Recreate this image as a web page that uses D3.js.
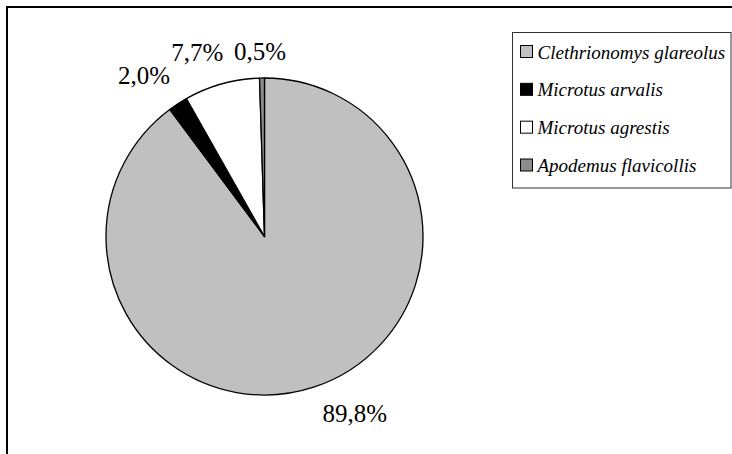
<!DOCTYPE html>
<html>
<head>
<meta charset="utf-8">
<script src="https://cdn.jsdelivr.net/npm/d3@7"></script>
<style>
  html, body { margin: 0; padding: 0; background: #fff; }
  svg { display: block; }
  svg text { font-family: "Liberation Serif", "Times New Roman", Times, Tinos, "Nimbus Roman", "DejaVu Serif", serif; }
</style>
</head>
<body>
<svg id="chart" width="732" height="454"></svg>
<script>
// Species share of captured rodents (%)
const species = ["Clethrionomys glareolus", "Microtus arvalis", "Microtus agrestis", "Apodemus flavicollis"];
const shares = [89.8, 2.0, 7.7, 0.5];
const valueLabels = ["89,8%", "2,0%", "7,7%", "0,5%"];
const fills = ["#c0c0c0", "#000000", "#ffffff", "#8c8c8c"];

// label placement: angular nudge (degrees) and distance from centre
const labelNudgeDeg = [-8.6, -3.7, -4.4, -0.5];
const labelDist = [199, 201, 196, 185];

const svg = d3.select("#chart");

// outer frame (runs off the right and bottom edges)
svg.append("rect")
  .attr("x", 7).attr("y", 7)
  .attr("width", 800).attr("height", 600)
  .attr("fill", "#fff")
  .attr("stroke", "#000")
  .attr("stroke-width", 2);

const cx = 264.5, cy = 236.5, r = 158.5;

const pie = d3.pie().sort(null).value(d => d)
  .startAngle(0).endAngle(2 * Math.PI);
const arcs = pie(shares);
const arc = d3.arc().innerRadius(0).outerRadius(r);

const g = svg.append("g").attr("transform", `translate(${cx},${cy})`);

g.selectAll("path.slice")
  .data(arcs)
  .join("path")
  .attr("class", "slice")
  .attr("d", arc)
  .attr("fill", (d, i) => fills[i])
  .attr("stroke", "#000")
  .attr("stroke-width", 1.3)
  .attr("stroke-linejoin", "round");

// value labels outside the pie
const labelAngle = (d, i) => (d.startAngle + d.endAngle) / 2 + labelNudgeDeg[i] * Math.PI / 180;

g.selectAll("text.val")
  .data(arcs)
  .join("text")
  .attr("class", "val")
  .attr("x", (d, i) => labelDist[i] * Math.sin(labelAngle(d, i)))
  .attr("y", (d, i) => -labelDist[i] * Math.cos(labelAngle(d, i)))
  .attr("text-anchor", "middle")
  .attr("dominant-baseline", "central")
  .attr("font-size", 25)
  .attr("fill", "#000")
  .text((d, i) => valueLabels[i]);

// legend
const legend = svg.append("g");
legend.append("rect")
  .attr("x", 512.5).attr("y", 32.5)
  .attr("width", 218.5).attr("height", 155.5)
  .attr("fill", "#fff")
  .attr("stroke", "#333")
  .attr("stroke-width", 1);

const rowY = d3.scalePoint().domain(species).range([52, 165.5]);

const rows = legend.selectAll("g.row")
  .data(species)
  .join("g")
  .attr("class", "row")
  .attr("transform", d => `translate(0,${rowY(d)})`);

rows.append("rect")
  .attr("x", 520.5).attr("y", -6.5)
  .attr("width", 12).attr("height", 12)
  .attr("fill", (d, i) => fills[i])
  .attr("stroke", "#000")
  .attr("stroke-width", 1);

rows.append("text")
  .attr("x", 537.5)
  .attr("y", 0)
  .attr("dominant-baseline", "central")
  .attr("font-style", "italic")
  .attr("font-size", 19)
  .attr("fill", "#000")
  .text(d => d);
</script>
</body>
</html>
